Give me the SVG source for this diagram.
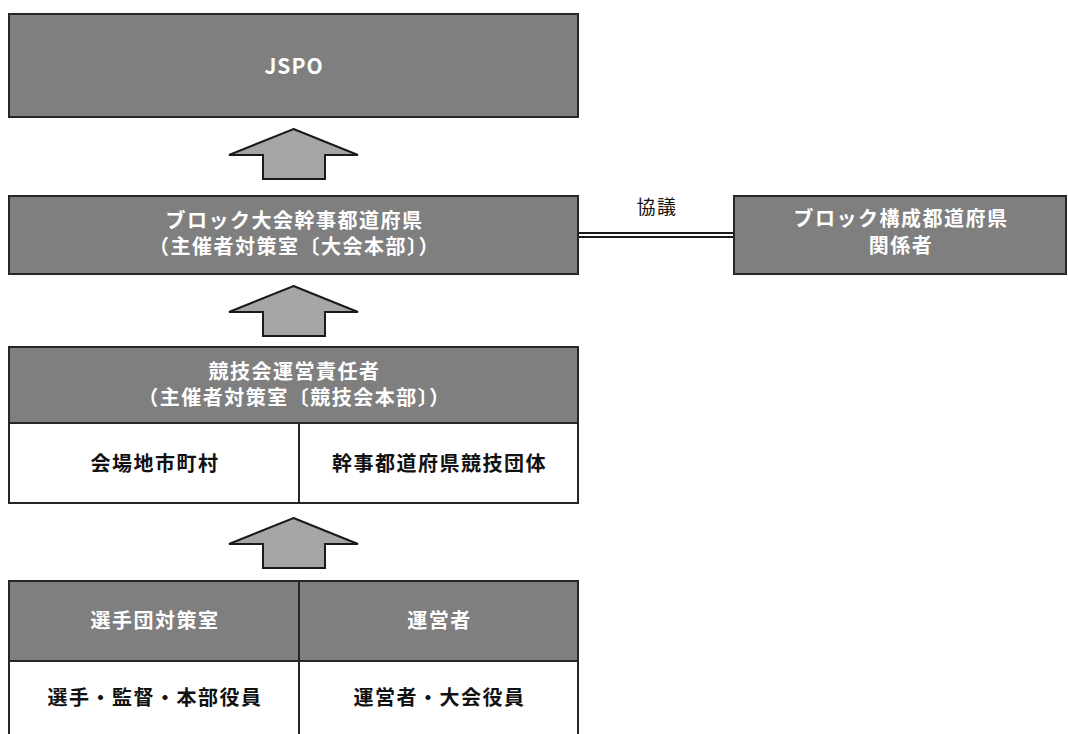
<svg xmlns="http://www.w3.org/2000/svg" width="1068" height="734" viewBox="0 0 1068 734">
<style>
.g{fill:#7f7f7f;stroke:#262626;stroke-width:2}
.w{fill:#ffffff;stroke:#262626;stroke-width:2}
.ar{fill:#a6a6a6;stroke:#1a1a1a;stroke-width:2;stroke-linejoin:miter}
.tw{fill:#ffffff;font-family:"Noto Sans CJK JP","Noto Sans",sans-serif;font-size:20px;font-weight:bold;text-anchor:middle;letter-spacing:1.5px}
.tb{fill:#111111;font-family:"Noto Sans CJK JP","Noto Sans",sans-serif;font-size:20px;font-weight:bold;text-anchor:middle;letter-spacing:1.5px}
.tn{fill:#111111;font-family:"Noto Sans CJK JP","Noto Sans",sans-serif;font-size:19px;text-anchor:middle;letter-spacing:1.5px}
</style>
<rect width="1068" height="734" fill="#ffffff"/>
<g id="connectors">
<line x1="578" y1="235" x2="734" y2="235" stroke="#1a1a1a" stroke-width="6"/>
<line x1="578" y1="235" x2="734" y2="235" stroke="#ffffff" stroke-width="2.2"/>
<text class="tn" x="657" y="214">協議</text>
<path class="ar" d="M293.5,129 L358,155 L325,155 L325,179 L263,179 L263,155 L229,155 Z"/>
<path class="ar" d="M293.5,286 L358,312 L325,312 L325,336 L263,336 L263,312 L229,312 Z"/>
<path class="ar" d="M293.5,518 L358,544 L325,544 L325,568 L263,568 L263,544 L229,544 Z"/>
</g>
<g id="jspo">
<rect class="g" x="9" y="14" width="569" height="103"/>
<text class="tw" x="294" y="74" style="font-size:21px;letter-spacing:1px">JSPO</text>
</g>
<g id="block-host">
<rect class="g" x="9" y="196" width="569" height="78"/>
<text class="tw" x="294.5" y="228">ブロック大会幹事都道府県</text>
<text class="tw" x="294.5" y="254">（主催者対策室〔大会本部〕）</text>
</g>
<g id="block-members">
<rect class="g" x="734" y="196" width="332" height="78"/>
<text class="tw" x="901" y="226">ブロック構成都道府県</text>
<text class="tw" x="901" y="253">関係者</text>
</g>
<g id="competition">
<rect class="g" x="9" y="347" width="569" height="76"/>
<text class="tw" x="294.5" y="379">競技会運営責任者</text>
<text class="tw" x="294.5" y="405">（主催者対策室〔競技会本部〕）</text>
<rect class="w" x="9" y="423" width="290" height="80"/>
<rect class="w" x="299" y="423" width="279" height="80"/>
<text class="tb" x="155" y="471">会場地市町村</text>
<text class="tb" x="439.5" y="471">幹事都道府県競技団体</text>
</g>
<g id="teams">
<rect class="g" x="9" y="581" width="290" height="80"/>
<rect class="g" x="299" y="581" width="279" height="80"/>
<text class="tw" x="155" y="628">選手団対策室</text>
<text class="tw" x="439.5" y="628">運営者</text>
<rect class="w" x="9" y="661" width="290" height="90"/>
<rect class="w" x="299" y="661" width="279" height="90"/>
<text class="tb" x="155" y="705">選手・監督・本部役員</text>
<text class="tb" x="439.5" y="705">運営者・大会役員</text>
</g>
</svg>
